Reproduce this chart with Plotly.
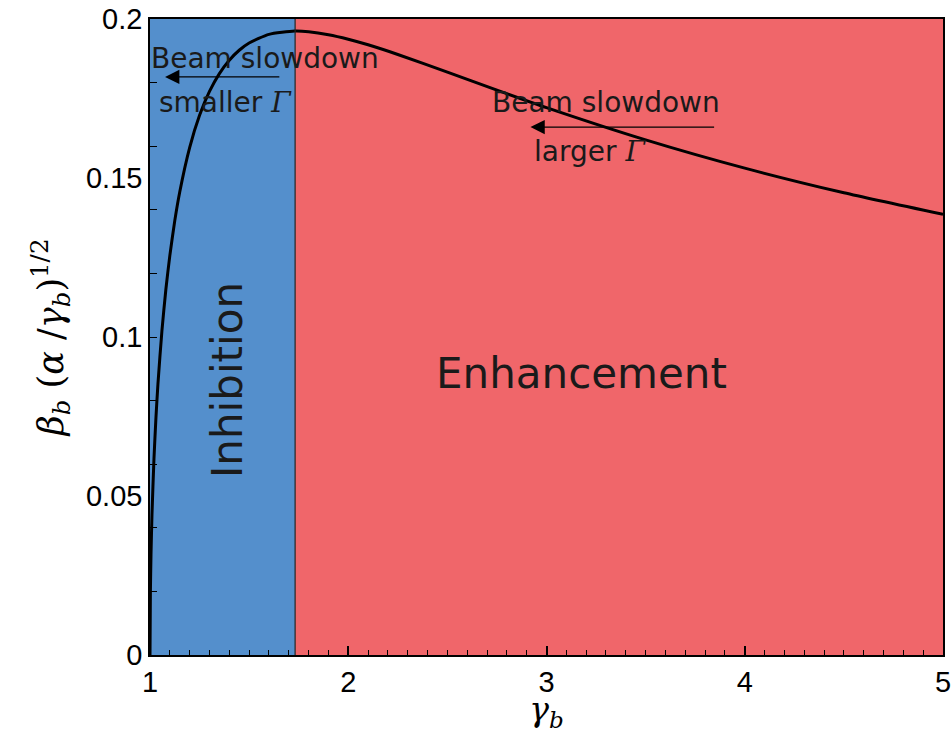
import plotly.graph_objects as go

# curve values
gamma_b = [1.0, 1.002, 1.005, 1.01, 1.02, 1.03, 1.04, 1.06, 1.08, 1.1, 1.125, 1.15, 1.2, 1.25,
           1.3, 1.35, 1.4, 1.45, 1.5, 1.6, 1.73, 1.8, 1.9, 2.0, 2.1, 2.25, 2.5, 2.75, 3.0,
           3.5, 4.0, 4.5, 5.0]
y_vals = [0.0, 0.01995, 0.03143, 0.04417, 0.06170, 0.07465, 0.08517, 0.10187, 0.11493, 0.12561,
          0.13659, 0.14562, 0.15957, 0.16971, 0.17722, 0.18284, 0.18704, 0.19017, 0.19245,
          0.19516, 0.19619, 0.19598, 0.19507, 0.19365, 0.19189, 0.18885, 0.18330, 0.17764,
          0.17213, 0.16198, 0.15309, 0.14534, 0.13856]

boundary = 1.732
x_range = [1, 5]
y_range = [0, 0.2]
x_ticks = [1, 2, 3, 4, 5]
y_ticks = [0, 0.05, 0.1, 0.15, 0.2]
y_tick_text = ["0", "0.05", "0.1", "0.15", "0.2"]
y_minor = [0.02, 0.04, 0.06, 0.08, 0.1, 0.12, 0.14, 0.16, 0.18]

blue = "rgb(84,143,204)"
red = "rgb(240,102,106)"
txt_font = "DejaVu Sans"
gam = "<span style='font-family:DejaVu Serif'><i>Γ</i></span>"

fig = go.Figure()

fig.add_shape(type="rect", xref="x", yref="y", x0=x_range[0], x1=boundary, y0=y_range[0], y1=y_range[1],
              fillcolor=blue, line=dict(width=0), layer="below")
fig.add_shape(type="rect", xref="x", yref="y", x0=boundary, x1=x_range[1], y0=y_range[0], y1=y_range[1],
              fillcolor=red, line=dict(width=0), layer="below")
fig.add_shape(type="line", xref="x", yref="y", x0=boundary, x1=boundary, y0=y_range[0], y1=y_range[1],
              line=dict(color="#222", width=1.2))

fig.add_trace(go.Scatter(x=gamma_b, y=y_vals, mode="lines",
                         line=dict(color="black", width=3, shape="spline", smoothing=0.6),
                         showlegend=False, hoverinfo="skip"))

# arrows
fig.add_annotation(x=1.076, y=0.1818, ax=1.66, ay=0.1818, xref="x", yref="y", axref="x", ayref="y",
                   text="", showarrow=True, arrowhead=2, arrowsize=2.2, arrowwidth=1.3, arrowcolor="black")
fig.add_annotation(x=2.919, y=0.166, ax=3.853, ay=0.166, xref="x", yref="y", axref="x", ayref="y",
                   text="", showarrow=True, arrowhead=2, arrowsize=2.2, arrowwidth=1.3, arrowcolor="black")

labels = [
    (1.58, 0.1877, "Beam slowdown", 28, 0),
    (1.38, 0.1736, "smaller " + gam, 28, 0),
    (3.30, 0.1736, "Beam slowdown", 28, 0),
    (3.22, 0.1582, "larger " + gam, 28, 0),
    (1.394, 0.0865, "Inhibition", 42, -90),
    (3.177, 0.0884, "Enhancement", 42, 0),
]
for x, y, t, s, rot in labels:
    fig.add_annotation(x=x, y=y, xref="x", yref="y", text=t, showarrow=False, textangle=rot,
                       font=dict(family=txt_font, size=s, color="#1a1a1a"),
                       xanchor="center", yanchor="middle")

fig.update_xaxes(range=x_range, tickvals=x_ticks, ticks="inside", ticklen=9, tickwidth=1.5,
                 tickcolor="black", showgrid=False, zeroline=False, showline=True, linecolor="black",
                 linewidth=1.5, mirror=True, automargin=False, ticklabeloverflow="allow",
                 minor=dict(dtick=0.1, tick0=1, ticks="inside", ticklen=5, tickwidth=1.2,
                            tickcolor="black", showgrid=False),
                 tickfont=dict(family="Liberation Sans", size=29, color="black"),
                 title=dict(text="<i>γ</i><sub><i>b</i></sub>", standoff=0,
                            font=dict(family="DejaVu Serif", size=33, color="black")))
fig.update_yaxes(range=y_range, tickvals=y_ticks, ticktext=y_tick_text, ticks="", showgrid=False,
                 zeroline=False, showline=True, linecolor="black", linewidth=1.5, mirror=True,
                 automargin=False, ticklabeloverflow="allow",
                 minor=dict(tickvals=y_minor, ticks="inside", ticklen=7, tickwidth=1.2,
                            tickcolor="black", showgrid=False),
                 tickfont=dict(family="Liberation Sans", size=29, color="black"),
                 title=dict(text="<i>β</i><sub><i>b</i></sub> (<i>α</i> /<i>γ</i><sub><i>b</i></sub>)<sup>1/2</sup>",
                            standoff=12, font=dict(family="DejaVu Serif", size=35, color="black")))

fig.update_layout(width=951, height=733, margin=dict(l=150, r=8, t=19, b=78),
                  paper_bgcolor="white", plot_bgcolor="white")

fig.write_html("out.html")
